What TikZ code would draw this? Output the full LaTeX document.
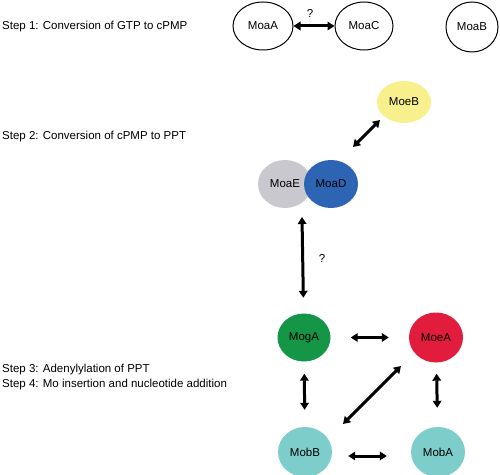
\documentclass[tikz,border=0pt]{standalone}
\usepackage{fontspec}
\setmainfont{Liberation Sans}
\usetikzlibrary{shapes.geometric,arrows.meta,calc}
\definecolor{cyel}{RGB}{248,240,140}
\definecolor{cgry}{RGB}{200,200,206}
\definecolor{cblu}{RGB}{45,100,180}
\definecolor{cgrn}{RGB}{20,150,70}
\definecolor{cred}{RGB}{225,28,60}
\definecolor{ctea}{RGB}{125,206,202}
\begin{document}
\begin{tikzpicture}[x=1pt,y=1pt,
 prot/.style={ellipse, inner sep=0pt, minimum width=54pt, minimum height=48pt, font=\fontsize{11.5}{13}\selectfont},
 outl/.style={prot, draw=black, line width=1pt, fill=white},
 dbl/.style={line width=3pt, {Triangle[length=7pt,width=8.5pt]}-{Triangle[length=7pt,width=8.5pt]}},
 steptxt/.style={anchor=west, inner sep=0pt, font=\fontsize{11.5}{13}\selectfont},
 qm/.style={inner sep=0pt, font=\fontsize{11.5}{13}\selectfont}]
\useasboundingbox (0,0) rectangle (500,474);
% step labels
\node[steptxt] (s1) at (2,447) {Step 1: Conversion of GTP to cPMP};
\node[steptxt] (s2) at (2,337) {Step 2: Conversion of cPMP to PPT};
\node[steptxt] (s3) at (2,104) {Step 3: Adenylylation of PPT};
\node[steptxt] (s4) at (2,89) {Step 4: Mo insertion and nucleotide addition};
% step 1
\node[outl, minimum width=60pt] (MoaA) at (263,448) {MoaA};
\node[outl, minimum width=58pt] (MoaC) at (364,448) {MoaC};
\node[outl, minimum width=52pt, minimum height=50pt] (MoaB) at (472,447) {MoaB};
\draw[dbl] (MoaA) -- (MoaC);
\node[qm] (q1) at (310,461) {?};
% step 2
\node[prot, fill=cyel, minimum height=42pt] (MoeB) at (404,372) {MoeB};
\node[prot, fill=cgry] (MoaE) at (285,290) {MoaE};
\node[prot, fill=cblu] (MoaD) at (331,290) {MoaD};
\coordinate (e1) at (353,327);
\draw[dbl] ($(MoeB)+(-24,-18)$) -- (e1);
\coordinate (pairb) at (302,257);
% steps 3/4
\node[prot, fill=cgrn, minimum width=53pt] (MogA) at (304,136.5) {MogA};
\node[prot, fill=cred, minimum height=50pt] (MoeA) at (436,136.5) {MoeA};
\node[prot, fill=ctea, minimum height=50pt] (MobB) at (305,22) {MobB};
\node[prot, fill=ctea, minimum height=50pt] (MobA) at (438,22) {MobA};
\draw[dbl, shorten >=15.5pt] (pairb) -- (MogA);
\node[qm] (q2) at (322,216) {?};
\draw[dbl, shorten <=20pt, shorten >=20pt] (MogA) -- (MoeA);
\draw[dbl, shorten <=12pt, shorten >=17pt] (MogA) -- (MobB);
\draw[dbl, shorten <=11pt, shorten >=19pt] (MoeA) -- (MobA);
\draw[dbl] ($(MobB)+(38,28)$) -- ($(MoeA)+(-35,-28.5)$);
\draw[dbl] ($(MobB.east)+(16,-4)$) -- ($(MobA.west)+(-24,-4)$);
\end{tikzpicture}
\end{document}
